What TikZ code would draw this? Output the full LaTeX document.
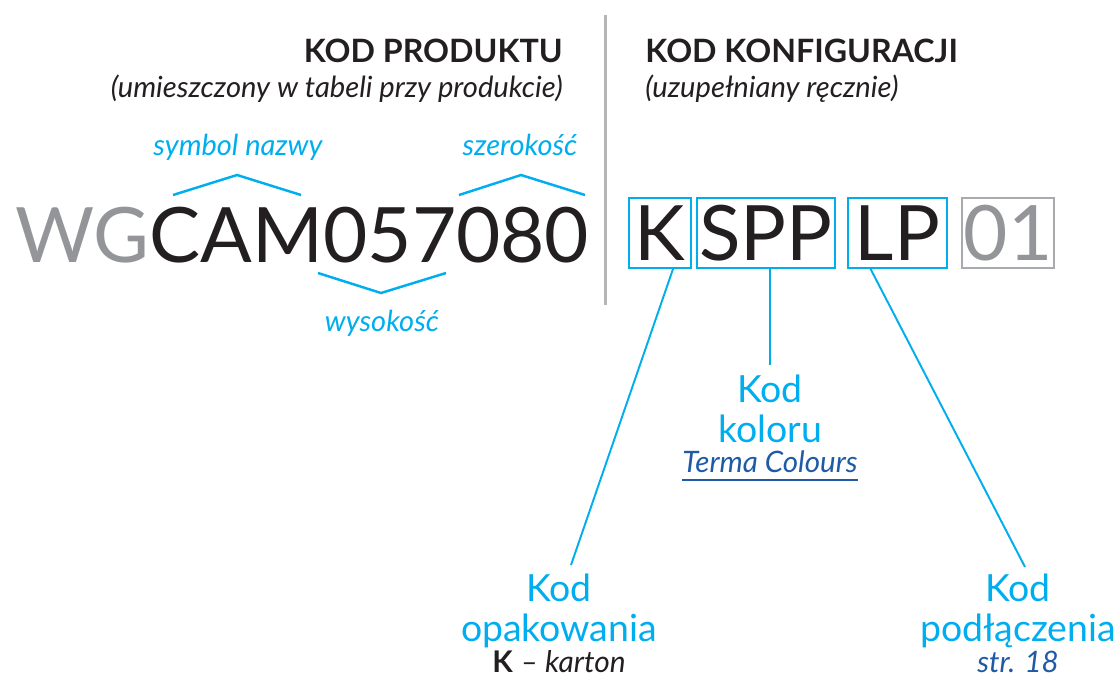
\documentclass[tikz,border=0pt]{standalone}
\usepackage{fontspec}
\setmainfont{Lato}
\usetikzlibrary{calc}

\definecolor{termablue}{HTML}{00AEEF}
\definecolor{termadark}{HTML}{1F5AA6}
\definecolor{codegray}{HTML}{939598}
\definecolor{codeblack}{HTML}{231F20}

\tikzset{
  headline/.style={font=\bfseries\fontsize{18.3}{22}\selectfont, text=codeblack},
  subline/.style={font=\itshape\fontsize{16.6}{19}\selectfont, text=codeblack},
  partlabel/.style={font=\itshape\fontsize{16.5}{19}\selectfont, text=termablue},
  bracket/.style={termablue, line width=1.4pt},
  codebox/.style={draw=termablue, line width=1.1pt, text=codeblack,
    font=\fontsize{43.5}{50}\selectfont, text height=31.2pt, text depth=0pt,
    minimum height=39.7pt},
  link/.style={termablue, line width=1.1pt},
  bottomlabel/.style={font=\fontsize{21.3}{22.7}\selectfont, text=termablue, align=center},
  note/.style={font=\itshape\fontsize{16.8}{19}\selectfont, text=termadark}
}

\begin{document}
\begin{tikzpicture}[x=0.02cm, y=-0.02cm, every node/.style={inner sep=0pt}]
\useasboundingbox (0,0) rectangle (1118,677);

% headings
\node[headline, anchor=base east] (prodtitle) at (563,62) {KOD PRODUKTU};
\node[subline, anchor=base east] (prodsub) at (563,97) {(umieszczony w tabeli przy produkcie)};
\node[headline, anchor=base west] (konftitle) at (645,62) {KOD KONFIGURACJI};
\node[subline, anchor=base west] (konfsub) at (645,97) {(uzupełniany ręcznie)};
\draw[codegray!70, line width=1.7pt] (605,15) -- (605,305);

% product code
\node[anchor=base west, font=\fontsize{43.5}{50}\selectfont, text=codeblack] (code) at (15,262)
  {\textcolor{codegray}{WG}CAM057080};
\draw[bracket] (173,195) -- (237,175) -- (301,195);
\draw[bracket] (459,195) -- (521,175) -- (585,195);
\draw[bracket] (318,273) -- (381,293) -- (446,273);
\node[partlabel, anchor=base] (nazwa) at (238,155) {symbol nazwy};
\node[partlabel, anchor=base] (szer) at (520,155) {szerokość};
\node[partlabel, anchor=base] (wys) at (382,331) {wysokość};

% configuration code
\node[codebox, minimum width=35.1pt] (kbox) at (660,233) {K};
\node[codebox, minimum width=78.2pt] (sppbox) at (766,233) {SPP};
\node[codebox, minimum width=56.1pt] (lpbox) at (897.5,233) {LP};
\node[codebox, draw=codegray!80, text=codegray, minimum width=52.2pt] (nrbox) at (1008,233) {01};

% descriptions
\node[bottomlabel, anchor=north] (kolor) at (770,375) {Kod\\koloru};
\node[note, anchor=base] (terma) at (770,472) {Terma Colours};
\draw[termadark, line width=0.8pt] ($(terma.base west)+(0,8)$) -- ($(terma.base east)+(0,8)$);
\node[bottomlabel, anchor=north] (opak) at (559,574) {Kod\\opakowania};
\node[anchor=base, text=codeblack, font=\fontsize{17}{19}\selectfont] (karton) at (559,672)
  {\textbf{K} \textit{– karton}};
\node[bottomlabel, anchor=north] (podl) at (1018,574) {Kod\\podłączenia};
\node[note, anchor=base] (strona) at (1018,672) {str. 18};

% connectors
\draw[link] (kbox.290) -- ($(opak.north)+(12,-9)$);
\draw[link] ($(sppbox.south)+(4,0)$) -- ($(kolor.north)+(0,-10)$);
\draw[link] ($(lpbox.south)+(-27,0)$) -- ($(podl.north)+(7,-7)$);
\end{tikzpicture}
\end{document}
